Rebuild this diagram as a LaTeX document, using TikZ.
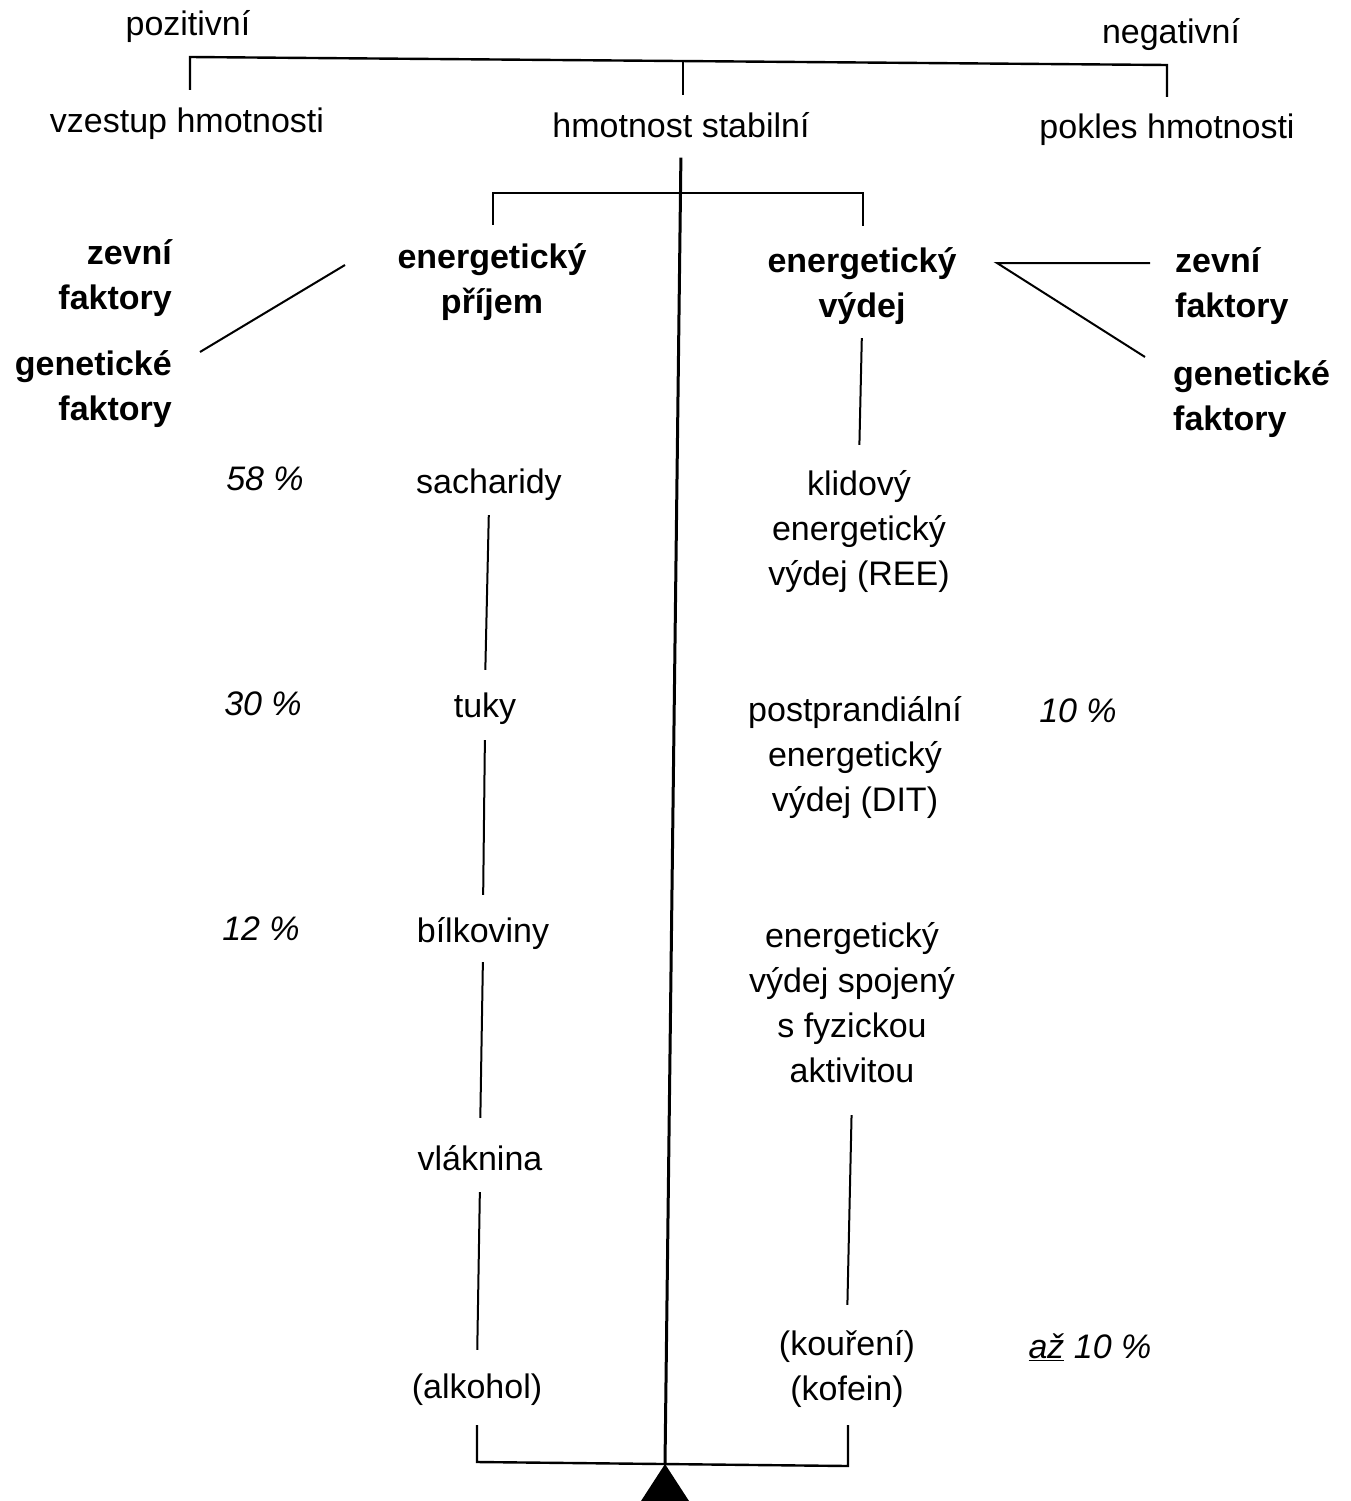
\documentclass[tikz,border=0pt]{standalone}
\usepackage{fontspec}
\setmainfont{Liberation Sans}
\usetikzlibrary{calc}
\newcommand\ls{\rule[-12pt]{0pt}{45pt}}
\begin{document}
\begin{tikzpicture}[x=1pt,y=-1pt,
  every node/.style={inner sep=0pt, font=\fontsize{34}{45}\selectfont},
  bld/.style={font=\fontsize{34}{45}\selectfont\bfseries},
  pct/.style={font=\fontsize{34}{45}\selectfont\itshape},
  conn/.style={line width=2pt},
  br/.style={line width=2.4pt}]
\useasboundingbox (0,0) rectangle (1351,1501);

% top labels
\node (poz) at (188,25) {pozitivní\ls};
\node (neg) at (1171,33) {negativní\ls};
\node (vz) at (187,122) {vzestup hmotnosti\ls};
\node (stab) at (681,127) {hmotnost stabilní\ls};
\node (pok) at (1167,128) {pokles hmotnosti\ls};

% main branches
\node[bld,align=center] (prij) at (492,280) {energetický\ls\\příjem\ls};
\node[bld,align=center] (vyd) at (862,284) {energetický\ls\\výdej\ls};
\node[bld,align=right,anchor=east] (lz) at (172,276.5) {zevní\ls\\faktory\ls};
\node[bld,align=right,anchor=east] (lgen) at (172,387.5) {genetické\ls\\faktory\ls};
\node[bld,align=left,anchor=west] (rz) at (1175,284) {zevní\ls\\faktory\ls};
\node[bld,align=left,anchor=west] (rgen) at (1173,397.5) {genetické\ls\\faktory\ls};

% intake column
\node[pct] (p58) at (265,480) {58 \%\ls};
\node (sach) at (489,483) {sacharidy\ls};
\node[pct] (p30) at (263,705) {30 \%\ls};
\node (tuky) at (485,707) {tuky\ls};
\node[pct] (p12) at (261,930) {12 \%\ls};
\node (bilk) at (483,932) {bílkoviny\ls};
\node (vlak) at (480,1160) {vláknina\ls};
\node (alk) at (477,1388) {(alkohol)\ls};

% expenditure column
\node[align=center] (ree) at (859,530) {klidový\ls\\energetický\ls\\výdej (REE)\ls};
\node[align=center] (dit) at (855,755.5) {postprandiální\ls\\energetický\ls\\výdej (DIT)\ls};
\node[pct] (p10) at (1078,712) {10 \%\ls};
\node[align=center] (fyz) at (852,1004.5) {energetický\ls\\výdej spojený\ls\\s fyzickou\ls\\aktivitou\ls};
\node[align=center] (kour) at (847,1367.5) {(kouření)\ls\\(kofein)\ls};
\node[pct] (az) at (1090,1348) {\underline{až} 10 \%\ls};

% coordinates
\coordinate (tl) at (190,57);
\coordinate (tr) at (1167,65);
\coordinate (tm) at (683,61);
\coordinate (bl) at (493,193);
\coordinate (bR) at (863,193);
\coordinate (apex) at (665,1464);
\coordinate (bbl) at (477,1462);
\coordinate (bbr) at (848,1466);
\coordinate (lp) at (345,265);
\coordinate (lg) at (200,352);
\coordinate (rv) at (997,263);
\coordinate (rze) at (1150,263);
\coordinate (rge) at (1145,357);

% top bracket
\draw[br] ($(vz.north -| tl)+(0,-9.5)$) -- (tl) -- (tr) -- ($(pok.north -| tr)+(0,-8.5)$);
\draw[br] ($(stab.north -| tm)+(0,-9.5)$) -- (tm);

% second bracket
\draw[br] ($(prij.north -| bl)+(0,-10)$) -- (bl) -- (bR) -- ($(vyd.north -| bR)+(0,-13)$);

% central beam and fulcrum
\draw[line width=3pt, shorten <=8pt] (stab.south) -- (apex);
\fill (641,1501) -- (apex) -- (689,1501) -- cycle;

% bottom bracket
\draw[br] ($(alk.south -| bbl)+(0,14.5)$) -- (bbl) -- (bbr) -- ($(kour.south -| bbr)+(0,12.5)$);

% factor lines
\draw[conn] (lp) -- (lg);
\draw[conn] (rze) -- (rv) -- (rge);

% vertical connectors
\draw[conn, shorten <=9pt, shorten >=17.5pt] (vyd.south) -- (ree.north);
\draw[conn, shorten <=9.5pt, shorten >=14.5pt] (sach.south) -- (tuky.north);
\draw[conn, shorten <=10.5pt, shorten >=14.5pt] (tuky.south) -- (bilk.north);
\draw[conn, shorten <=7.5pt, shorten >=19.5pt] (bilk.south) -- (vlak.north);
\draw[conn, shorten <=9.5pt, shorten >=15.5pt] (vlak.south) -- (alk.north);
\draw[conn, shorten <=20.5pt, shorten >=17.5pt] (fyz.south) -- (kour.north);
\end{tikzpicture}
\end{document}
